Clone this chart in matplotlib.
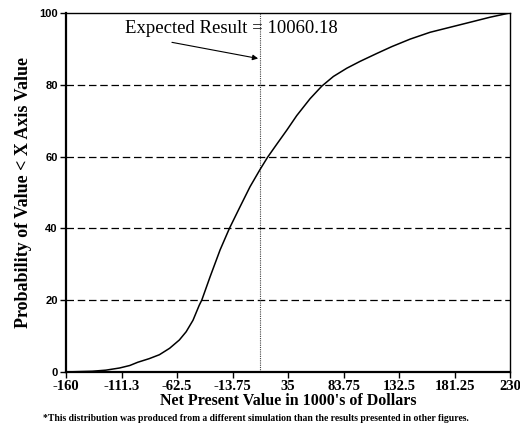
import matplotlib
matplotlib.use('Agg')
import matplotlib.pyplot as plt

# cumulative probability curve (NPV in $1000s, percent)
npv = [-160, -137, -125, -113, -104, -97, -87, -78, -69, -60.5, -54.5,
       -48.5, -43, -40.8, -33.5, -24.7, -16.5, -7.2, 1.6, 10.4, 17, 25,
       34, 42.6, 54.3, 64.6, 74.8, 86.6, 98.2, 112.9, 126, 142.2, 159.7,
       177.3, 194.9, 212.4, 230]
prob = [0, 0.2, 0.5, 1.1, 1.8, 2.7, 3.7, 4.8, 6.6, 8.9, 11.2,
        14.4, 18.6, 20, 26.5, 34, 40, 46, 51.6, 56.4, 59.8, 63.4,
        67.4, 71.4, 76.1, 79.6, 82.3, 84.6, 86.5, 88.7, 90.6, 92.7, 94.6,
        96, 97.4, 98.8, 100]

x_ticks = [-160, -111.25, -62.5, -13.75, 35, 83.75, 132.5, 181.25, 230]
x_labels = ['-160', '-111.3', '-62.5', '-13.75', '35', '83.75', '132.5', '181.25', '230']
y_ticks = [0, 20, 40, 60, 80, 100]
expected = 10.06018

serif = 'Liberation Serif'

fig = plt.figure(figsize=(5.2, 4.3), dpi=100, facecolor='white')
ax = fig.add_axes([0.127, 0.135, 0.854, 0.835])

for yv in [20, 40, 60, 80]:
    ax.axhline(yv, color='black', lw=0.9, linestyle=(0, (6, 3)), zorder=1)
ax.axvline(expected, color='#444444', lw=0.8, linestyle=(0, (1, 1)), zorder=1)

ax.plot(npv, prob, color='black', lw=1.1, zorder=3)

ax.set_xlim(-160, 230)
ax.set_ylim(0, 100)
ax.set_xticks(x_ticks)
ax.set_xticklabels(x_labels, fontfamily=serif, fontweight='bold', fontsize=10.5)
ax.set_yticks(y_ticks)
ax.set_yticklabels([str(v) for v in y_ticks], fontfamily='Liberation Sans',
                   fontweight='bold', fontsize=8)
ax.tick_params(axis='both', direction='out', length=4, width=1, pad=2)

for s in ['left', 'bottom']:
    ax.spines[s].set_linewidth(1.6)
for s in ['top', 'right']:
    ax.spines[s].set_linewidth(1.0)

ax.set_xlabel("Net Present Value in 1000's of Dollars", fontfamily=serif,
              fontsize=11.5, fontweight='bold', labelpad=0)
ax.set_ylabel('Probability of Value < X Axis Value', fontfamily=serif,
              fontweight='bold', fontsize=13, labelpad=5)

ax.text(-108, 95.7, 'Expected Result = 10060.18', fontfamily=serif,
        fontsize=13.5, va='center', ha='left')
ax.annotate('', xy=(8.7, 87.3), xytext=(-67, 91.8),
            arrowprops=dict(arrowstyle='-|>', color='black', lw=0.8,
                            mutation_scale=8, shrinkA=0, shrinkB=0))

fig.text(0.493, 0.016, '*This distribution was produced from a different simulation '
         'than the results presented in other figures.', fontfamily=serif,
         fontweight='bold', fontsize=6.9, ha='center', va='bottom')

fig.savefig('out.png', dpi=100)
